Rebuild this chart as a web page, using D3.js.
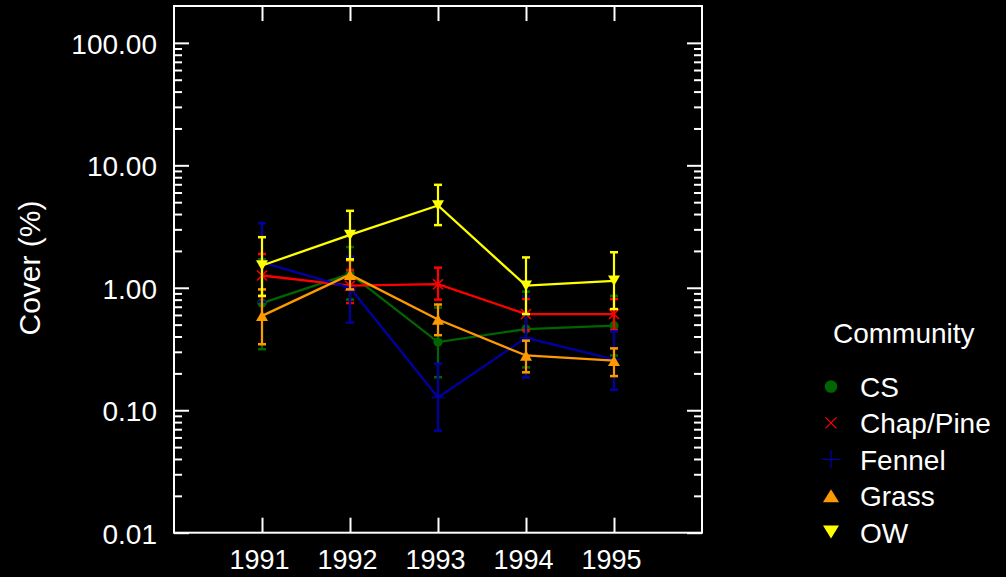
<!DOCTYPE html>
<html>
<head>
<meta charset="utf-8">
<script src="https://cdn.jsdelivr.net/npm/d3@7"></script>
<style>
  html, body { margin: 0; padding: 0; background: #000; }
  svg { display: block; }
  text { font-family: "Liberation Sans", Arial, sans-serif; fill: #fff; }
</style>
</head>
<body>
<svg id="chart" width="1006" height="577"></svg>
<script>
// Survey years and plant communities
const years = [1991, 1992, 1993, 1994, 1995];
const communities = ["CS", "Chap/Pine", "Fennel", "Grass", "OW"];

// Mean cover (%) with lower / upper error limits, one array per community
const csMean   = [0.75, 1.30, 0.36, 0.46, 0.49];
const csLow    = [0.315, 0.80, 0.186, 0.224, 0.28];
const csHigh   = [1.71, 2.15, 0.69, 0.93, 0.86];

const chapMean = [1.26, 1.04, 1.07, 0.61, 0.61];
const chapLow  = [0.85, 0.75, 0.80, 0.45, 0.45];
const chapHigh = [1.89, 1.40, 1.46, 0.81, 0.81];

const fennelMean = [1.61, 1.00, 0.127, 0.39, 0.26];
const fennelLow  = [0.77, 0.52, 0.068, 0.185, 0.147];
const fennelHigh = [3.37, 1.80, 0.24, 0.85, 0.44];

const grassMean = [0.59, 1.28, 0.55, 0.28, 0.254];
const grassLow  = [0.346, 0.97, 0.41, 0.204, 0.19];
const grassHigh = [0.97, 1.68, 0.73, 0.37, 0.32];

const owMean = [1.52, 2.70, 4.70, 1.04, 1.14];
const owLow  = [0.86, 1.71, 3.25, 0.61, 0.67];
const owHigh = [2.59, 4.25, 6.93, 1.77, 1.95];

// Axis tick values
const yMajorTicks = [0.01, 0.1, 1, 10, 100];
const yMinorTicks = [];
[0.01, 0.1, 1, 10, 100].forEach(d => {
  for (let k = 2; k <= 9; k++) if (d * k < 200) yMinorTicks.push(+(d * k).toPrecision(3));
});

const colors  = ["#006400", "#ff0000", "#0000a0", "#ff9900", "#ffff00"];
const shapes  = ["circle", "times", "plus", "triUp", "triDown"];

const seriesData = [
  [csMean, csLow, csHigh],
  [chapMean, chapLow, chapHigh],
  [fennelMean, fennelLow, fennelHigh],
  [grassMean, grassLow, grassHigh],
  [owMean, owLow, owHigh]
].map(([m, lo, hi], i) => ({
  name: communities[i],
  color: colors[i],
  shape: shapes[i],
  points: years.map((yr, j) => ({ year: yr, mean: m[j], low: lo[j], high: hi[j] }))
}));

const svg = d3.select("#chart");
const plot = { left: 174, right: 702, top: 6, bottom: 532.7 };

const x = d3.scaleLinear().domain([1990, 1996]).range([plot.left, plot.right]);
const y = d3.scaleLog().domain([0.01, 200]).range([plot.bottom, plot.top]);

// Marker path generator
function markerPath(shape, s) {
  const p = d3.path();
  if (shape === "circle") {
    p.arc(0, 0, s.r, 0, 2 * Math.PI);
  } else if (shape === "times") {
    p.moveTo(-s.x, -s.x); p.lineTo(s.x, s.x);
    p.moveTo(-s.x, s.x); p.lineTo(s.x, -s.x);
  } else if (shape === "plus") {
    p.moveTo(-s.p, 0); p.lineTo(s.p, 0);
    p.moveTo(0, -s.p); p.lineTo(0, s.p);
  } else if (shape === "triUp") {
    p.moveTo(0, -s.th / 2); p.lineTo(s.tw / 2, s.th / 2); p.lineTo(-s.tw / 2, s.th / 2); p.closePath();
  } else if (shape === "triDown") {
    p.moveTo(0, s.th / 2); p.lineTo(s.tw / 2, -s.th / 2); p.lineTo(-s.tw / 2, -s.th / 2); p.closePath();
  }
  return p.toString();
}
function drawMarker(sel, shape, color, s) {
  const stroked = shape === "times" || shape === "plus";
  sel.append("path")
    .attr("d", markerPath(shape, s))
    .attr("fill", stroked ? "none" : color)
    .attr("stroke", stroked ? color : "none")
    .attr("stroke-width", stroked ? s.sw : 0);
}

// Axes: inward ticks on all four sides
const axes = svg.append("g");
const bottomAxis = d3.axisBottom(x).tickValues(years).tickFormat(d3.format("d"))
  .tickSizeInner(-15).tickSizeOuter(0).tickPadding(17);
const leftAxis = d3.axisLeft(y).tickValues(yMajorTicks).tickFormat(d3.format(".2f"))
  .tickSizeInner(-15).tickSizeOuter(0).tickPadding(17);
const leftMinor = d3.axisLeft(y).tickValues(yMinorTicks).tickFormat("")
  .tickSizeInner(-8).tickSizeOuter(0);
const rightAxis = d3.axisRight(y).tickValues(yMajorTicks).tickFormat("")
  .tickSizeInner(-15).tickSizeOuter(0);
const rightMinor = d3.axisRight(y).tickValues(yMinorTicks).tickFormat("")
  .tickSizeInner(-8).tickSizeOuter(0);
const topAxis = d3.axisTop(x).tickValues(years).tickFormat("")
  .tickSizeInner(-15).tickSizeOuter(0);

const gb = axes.append("g").attr("transform", `translate(0,${plot.bottom})`).call(bottomAxis);
const gl = axes.append("g").attr("transform", `translate(${plot.left},0)`).call(leftAxis);
const glm = axes.append("g").attr("transform", `translate(${plot.left},0)`).call(leftMinor);
const gr = axes.append("g").attr("transform", `translate(${plot.right},0)`).call(rightAxis);
const grm = axes.append("g").attr("transform", `translate(${plot.right},0)`).call(rightMinor);
const gt = axes.append("g").attr("transform", `translate(0,${plot.top})`).call(topAxis);

[gb, gl, glm, gr, grm, gt].forEach(g => {
  g.select(".domain").remove();
  g.selectAll(".tick line").attr("stroke", "#fff").attr("stroke-width", 2);
  g.selectAll(".tick text").attr("fill", "#fff")
    .style("font-family", '"Liberation Sans", Arial, sans-serif');
});
gb.selectAll(".tick text").style("font-size", "27px").attr("dx", "-3");
gl.selectAll(".tick text").style("font-size", "28px").attr("dy", "0.38em");

// Plot frame
axes.append("rect")
  .attr("x", plot.left).attr("y", plot.top)
  .attr("width", plot.right - plot.left).attr("height", plot.bottom - plot.top)
  .attr("fill", "none").attr("stroke", "#fff").attr("stroke-width", 2);

// Y axis title
svg.append("text")
  .attr("transform", `translate(40,268) rotate(-90)`)
  .attr("text-anchor", "middle")
  .style("font-size", "30px")
  .text("Cover (%)");

// Series: error bars, connecting line, markers
const plotMarker = { r: 4.6, x: 5, p: 6.5, tw: 12, th: 10.5, sw: 1.5 };
const line = d3.line().x(d => x(d.year)).y(d => y(d.mean));
const seriesG = svg.append("g");
seriesData.forEach(s => {
  const g = seriesG.append("g");
  const eb = g.append("g").attr("stroke", s.color).attr("fill", "none");
  s.points.forEach(d => {
    const cx = x(d.year);
    eb.append("line").attr("x1", cx).attr("x2", cx).attr("y1", y(d.low)).attr("y2", y(d.high)).attr("stroke-width", 2.2);
    eb.append("line").attr("x1", cx - 4).attr("x2", cx + 4).attr("y1", y(d.low)).attr("y2", y(d.low)).attr("stroke-width", 2.5);
    eb.append("line").attr("x1", cx - 4).attr("x2", cx + 4).attr("y1", y(d.high)).attr("y2", y(d.high)).attr("stroke-width", 2.5);
  });
  g.append("path").datum(s.points).attr("d", line)
    .attr("fill", "none").attr("stroke", s.color).attr("stroke-width", 2.3);
  s.points.forEach(d => {
    const mg = g.append("g").attr("transform", `translate(${x(d.year)},${y(d.mean)})`);
    drawMarker(mg, s.shape, s.color, plotMarker);
  });
});

// Legend
const legend = svg.append("g");
legend.append("text").attr("x", 833).attr("y", 343).style("font-size", "28px").text("Community");
const legendMarker = { r: 6.3, x: 5.5, p: 9, tw: 16, th: 13, sw: 1.3 };
seriesData.forEach((s, i) => {
  const base = 397 + i * 36.4;
  const mg = legend.append("g").attr("transform", `translate(831,${base - 10.5})`);
  drawMarker(mg, s.shape, s.color, legendMarker);
  legend.append("text").attr("x", 860).attr("y", base).style("font-size", "28px").text(s.name);
});
</script>
</body>
</html>
